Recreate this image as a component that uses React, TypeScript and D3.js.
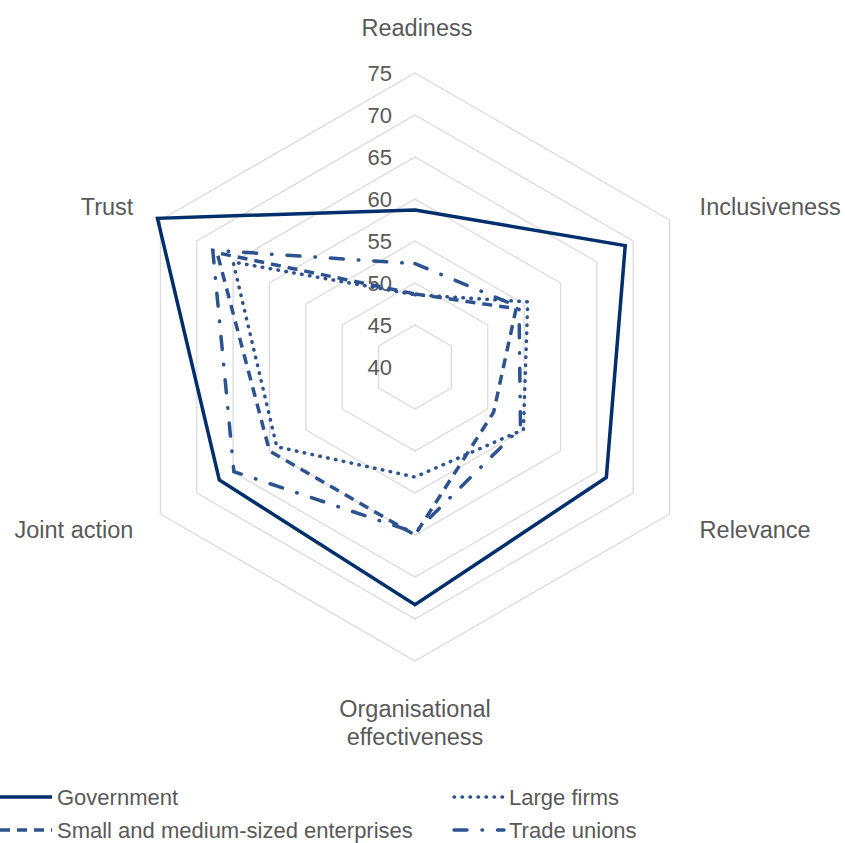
import { useMemo } from 'react'
import { scaleLinear, lineRadial, curveLinearClosed, range } from 'd3'

// Categories clockwise from the top.
const AXES = ['Readiness', 'Inclusiveness', 'Relevance', 'Organisational effectiveness', 'Joint action', 'Trust']
const TICKS = [40, 45, 50, 55, 60, 65, 70, 75]

const GOVERNMENT = [58.7, 68.9, 66.3, 68.3, 66.9, 75.4]
const LARGE_FIRMS = [48.6, 55.5, 54.9, 53.1, 59.0, 65.0]
const SME = [48.7, 53.9, 50.8, 60.0, 60.0, 67.2]
const TRADE_UNIONS = [52.3, 54.3, 54.5, 59.7, 64.9, 67.8]

const SERIES = [
  { name: 'Government', values: GOVERNMENT, color: '#002F6C', dash: '', width: 3.5, cap: 'butt' },
  { name: 'Large firms', values: LARGE_FIRMS, color: '#2D5290', dash: '0.5 7.5', width: 3.5, cap: 'round' },
  { name: 'Small and medium-sized enterprises', values: SME, color: '#2D5290', dash: '10 7', width: 3.5, cap: 'butt' },
  { name: 'Trade unions', values: TRADE_UNIONS, color: '#2D5290', dash: '13 15 0.5 15', width: 3.5, cap: 'round' },
]

const W = 845
const H = 843
const CX = 415
const CY = 367
const R = 294
const FONT = '"Liberation Sans", Arial, sans-serif'
const INK = '#595959'

// label placement relative to each outer vertex
const LABEL_POS = [
  { dx: 2, dy: -45, anchor: 'middle' },
  { dx: 30, dy: -13, anchor: 'start' },
  { dx: 30, dy: 16, anchor: 'start' },
  { dx: 0, dy: 48, anchor: 'middle' },
  { dx: -27, dy: 16, anchor: 'end' },
  { dx: -27, dy: -13, anchor: 'end' },
]

export default function App() {
  const r = useMemo(() => scaleLinear().domain([40, 75]).range([0, R]), [])
  const angle = (i: number) => (i * 2 * Math.PI) / AXES.length
  const pt = (i: number, rad: number) => [CX + rad * Math.sin(angle(i)), CY - rad * Math.cos(angle(i))]

  const radial = lineRadial<number>()
    .angle((_, i) => angle(i))
    .radius((d) => r(d))
    .curve(curveLinearClosed)

  return (
    <svg width={W} height={H} style={{ position: 'absolute', left: 0, top: 0 }} fontFamily={FONT}>
      <g transform={`translate(${CX},${CY})`}>
        {TICKS.slice(1).map((t) => (
          <path
            key={t}
            d={radial(AXES.map(() => t)) ?? ''}
            fill="none"
            stroke="#D9D9D9"
            strokeWidth={1.2}
          />
        ))}
      </g>

      {TICKS.map((t) => (
        <text key={t} x={CX - 23} y={CY - r(t)} dy="0.35em" textAnchor="end" fontSize={22} fill={INK}>
          {t}
        </text>
      ))}

      <g transform={`translate(${CX},${CY})`}>
        {SERIES.map((s) => (
          <path
            key={s.name}
            d={radial(s.values) ?? ''}
            fill="none"
            stroke={s.color}
            strokeWidth={s.width}
            strokeDasharray={s.dash || undefined}
            strokeLinecap={s.cap as 'butt' | 'round'}
            strokeLinejoin="miter"
          />
        ))}
      </g>

      {AXES.map((a, i) => {
        const [x, y] = pt(i, R)
        const p = LABEL_POS[i]
        const lines = a === 'Organisational effectiveness' ? ['Organisational', 'effectiveness'] : [a]
        return (
          <text key={a} x={x + p.dx} y={y + p.dy} textAnchor={p.anchor} fontSize={23.5} fill={INK}>
            {lines.map((l, j) => (
              <tspan key={l} x={x + p.dx} dy={j === 0 ? '0.35em' : 28}>
                {l}
              </tspan>
            ))}
          </text>
        )
      })}

      {range(SERIES.length).map((i) => {
        const s = SERIES[i]
        const col = i % 2
        const row = Math.floor(i / 2)
        const lx = col === 0 ? 0 : 452
        const ly = 797 + row * 33
        return (
          <g key={s.name}>
            <line
              x1={lx + (s.cap === 'round' ? 2 : 0)}
              x2={lx + 52}
              y1={ly}
              y2={ly}
              stroke={s.color}
              strokeWidth={s.width}
              strokeDasharray={s.dash || undefined}
              strokeLinecap={s.cap as 'butt' | 'round'}
            />
            <text x={lx + 57} y={ly} dy="0.35em" fontSize={22} fill={INK}>
              {s.name}
            </text>
          </g>
        )
      })}
    </svg>
  )
}
